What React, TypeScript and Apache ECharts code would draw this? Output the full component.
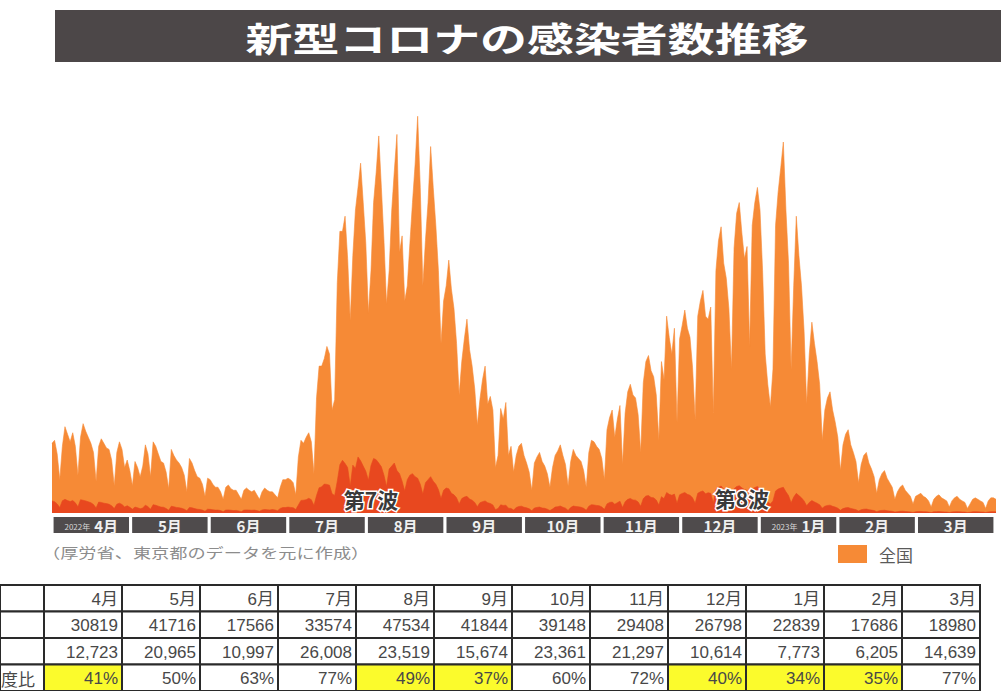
import { useEffect, useRef } from 'react';
import * as echarts from 'echarts';

// ---- Daily new cases, national (thousands), Apr 2022 - Mar 2023 ----
const natApr = [46, 48, 39, 22, 44, 57, 52, 47, 53, 44, 25, 50, 59, 54, 50, 46, 40, 21, 44, 49, 46, 43, 42, 35, 18, 40, 47, 42, 30, 35];
const natMay = [28, 18, 34, 30, 24, 31, 45, 39, 24, 47, 44, 39, 34, 33, 27, 16, 42, 38, 35, 33, 30, 25, 14, 36, 33, 28, 24, 23, 19, 11, 23];
const natJun = [22, 19, 17, 17, 14, 9, 17, 18.5, 16, 15, 15, 12, 9, 15, 16.5, 15, 14, 15, 12, 9, 14, 16.5, 15, 14, 14, 12, 10, 17, 22, 22];
const natJul = [23, 22, 20, 12, 37, 48, 46, 50, 53, 47, 26, 76, 97, 97, 102, 110, 105, 68, 75, 152, 186, 186, 196, 168, 127, 170, 200, 215, 231, 205, 178];
const natAug = [132, 160, 205, 225, 249, 215, 180, 138, 160, 200, 226, 250, 172, 183, 140, 150, 178, 205, 230, 262, 215, 150, 180, 205, 242, 215, 190, 160, 112, 140, 150];
const natSep = [167, 148, 135, 112, 78, 100, 115, 128, 108, 97, 82, 58, 75, 88, 97, 72, 77, 68, 30, 38, 69, 62, 73, 38, 44, 27, 38, 44, 46, 38];
const natOct = [33, 27, 15, 33, 37, 40, 34, 31, 26, 17, 30, 38, 41, 45, 38, 32, 18, 34, 42, 38, 36, 34, 28, 17, 40, 48, 47, 44, 42, 36, 22];
const natNov = [55, 63, 68, 50, 62, 71, 32, 66, 80, 85, 78, 76, 65, 40, 86, 100, 104, 94, 90, 78, 48, 100, 88, 130, 116, 105, 122, 60, 115, 124];
const natDec = [134, 122, 116, 96, 62, 130, 140, 147, 130, 128, 136, 66, 160, 180, 189, 165, 155, 135, 95, 175, 198, 205, 185, 168, 176, 110, 190, 205, 215, 200, 160];
const natJan = [105, 85, 70, 95, 190, 212, 228, 245, 200, 165, 95, 150, 196, 170, 150, 120, 72, 105, 126, 112, 100, 85, 48, 68, 76, 80, 68, 60, 50, 28, 45];
const natFeb = [52, 55, 45, 40, 34, 20, 32, 38, 40, 33, 29, 24, 13, 22, 26, 28, 23, 20, 17, 9, 14, 17, 18.5, 15, 13, 11, 6, 11];
const natMar = [12, 13, 11, 10, 8, 4, 9, 11, 12, 10, 9, 8, 4, 8, 10, 11, 9, 8, 7, 3, 6, 9, 10, 9, 8, 7, 3, 8, 10, 10, 9];

// ---- Daily new cases, Tokyo (thousands) ----
const tkApr = [8.0, 7.5, 6.0, 3.6, 8.1, 9.0, 8.2, 7.6, 8.2, 6.7, 4.1, 8.8, 8.4, 8.0, 7.4, 6.8, 5.6, 3.3, 7.2, 7.0, 6.5, 6.2, 5.8, 4.8, 2.9, 5.8, 6.5, 5.6, 4.0, 4.8];
const tkMay = [3.8, 2.5, 3.9, 3.5, 2.8, 3.3, 5.2, 4.2, 2.5, 5.5, 5.1, 4.5, 3.9, 3.8, 3.0, 1.8, 4.5, 4.1, 3.7, 3.5, 3.1, 2.5, 1.5, 3.7, 3.4, 2.9, 2.5, 2.3, 1.9, 1.1, 2.5];
const tkJun = [2.4, 2.1, 1.9, 1.9, 1.6, 0.9, 1.9, 2.0, 1.8, 1.6, 1.7, 1.4, 0.9, 1.9, 2.0, 1.9, 1.8, 1.9, 1.6, 1.1, 2.0, 2.3, 2.1, 2.0, 2.3, 2.0, 1.5, 3.0, 3.6, 3.6];
const tkJul = [3.9, 3.7, 3.5, 2.3, 5.3, 8.3, 8.5, 8.8, 9.7, 8.8, 5.0, 11.5, 16.7, 17.3, 19.1, 18.9, 18.4, 12.7, 11.6, 21.0, 31.9, 34.8, 32.7, 30.0, 17.8, 31.6, 29.4, 37.0, 34.5, 31.0, 27.6];
const tkAug = [21.6, 31.4, 36.0, 35.2, 33.0, 30.5, 25.0, 17.5, 29.0, 31.0, 33.0, 28.0, 26.0, 21.0, 14.5, 22.0, 25.0, 26.0, 24.0, 23.0, 19.0, 12.5, 20.0, 22.0, 24.0, 21.0, 19.0, 15.5, 9.5, 15.0, 16.5];
const tkSep = [16.0, 13.0, 12.0, 10.0, 6.0, 9.5, 10.5, 11.0, 9.2, 8.5, 7.0, 4.2, 6.8, 7.5, 8.0, 6.8, 6.3, 5.3, 2.2, 3.0, 5.4, 5.0, 5.2, 3.2, 3.0, 1.9, 3.6, 4.3, 4.5, 3.8];
const tkOct = [3.4, 2.8, 1.5, 3.3, 3.7, 3.9, 3.3, 3.1, 2.5, 1.6, 2.6, 3.9, 4.2, 4.6, 3.8, 3.2, 1.7, 3.6, 4.6, 4.3, 4.1, 3.8, 3.1, 1.8, 4.5, 5.5, 5.3, 5.0, 4.8, 4.0, 2.4];
const tkNov = [6.0, 7.0, 7.2, 5.8, 6.8, 7.8, 3.6, 7.5, 9.0, 9.6, 8.6, 8.5, 7.3, 4.5, 9.5, 11.2, 11.5, 10.3, 10.0, 8.6, 5.3, 10.8, 9.5, 13.5, 12.3, 11.7, 12.5, 6.4, 12.0, 12.9];
const tkDec = [13.5, 12.3, 11.8, 10.0, 6.5, 13.0, 14.0, 14.6, 12.7, 13.4, 13.0, 6.8, 15.5, 17.0, 17.8, 15.8, 14.8, 13.0, 9.0, 16.0, 17.5, 18.0, 16.6, 15.5, 15.0, 9.5, 16.0, 16.8, 17.5, 16.2, 12.5];
const tkJan = [9.5, 7.2, 6.0, 8.0, 14.5, 15.8, 16.5, 17.0, 14.0, 11.5, 6.8, 10.5, 13.0, 11.5, 10.0, 8.0, 4.8, 7.0, 8.2, 7.3, 6.5, 5.5, 3.2, 4.5, 5.0, 5.2, 4.4, 3.9, 3.2, 1.8, 2.9];
const tkFeb = [3.4, 3.6, 3.0, 2.6, 2.2, 1.3, 2.1, 2.5, 2.6, 2.2, 1.9, 1.6, 0.9, 1.5, 1.7, 1.8, 1.5, 1.3, 1.1, 0.6, 0.9, 1.1, 1.2, 1.0, 0.9, 0.7, 0.4, 0.8];
const tkMar = [1.0, 1.0, 0.9, 0.8, 0.6, 0.3, 0.8, 0.9, 1.0, 0.8, 0.7, 0.6, 0.3, 0.7, 0.8, 0.9, 0.8, 0.7, 0.6, 0.3, 0.5, 0.8, 0.9, 0.8, 0.7, 0.6, 0.3, 0.7, 0.9, 0.9, 0.8];

const national = [...natApr, ...natMay, ...natJun, ...natJul, ...natAug, ...natSep, ...natOct, ...natNov, ...natDec, ...natJan, ...natFeb, ...natMar];
const tokyo = [...tkApr, ...tkMay, ...tkJun, ...tkJul, ...tkAug, ...tkSep, ...tkOct, ...tkNov, ...tkDec, ...tkJan, ...tkFeb, ...tkMar];

// ---- Month strip under the chart ----
const monthBarLabels = ['4月', '5月', '6月', '7月', '8月', '9月', '10月', '11月', '12月', '1月', '2月', '3月'];
const monthBarYears = ['2022年', '', '', '', '', '', '', '', '', '2023年', '', ''];
const monthBarValues = [1, 1, 1, 1, 1, 1, 1, 1, 1, 1, 1, 1];

// ---- Wave annotations (day index, value in thousands) ----
const waveNames = ['第7波', '第8波'];
const waveDays = [123, 266];
const waveValues = [9.3, 9.9];

// ---- Table ----
const tableMonths = ['4月', '5月', '6月', '7月', '8月', '9月', '10月', '11月', '12月', '1月', '2月', '3月'];
const tableRowA = [30819, 41716, 17566, 33574, 47534, 41844, 39148, 29408, 26798, 22839, 17686, 18980];
const tableRowB = [12723, 20965, 10997, 26008, 23519, 15674, 23361, 21297, 10614, 7773, 6205, 14639];
const tableRatio = [41, 50, 63, 77, 49, 37, 60, 72, 40, 34, 35, 77];
const ratioHighlight = [true, false, false, false, true, true, false, false, true, true, true, false];
const rowHeaders = ['', '', '', '度比'];
const tableRows = ['month', 'a', 'b', 'ratio'];

const TITLE = '新型コロナの感染者数推移';
const NOTE = '（厚労省、東京都のデータを元に作成）';

const JP = '"Noto Sans CJK JP", "Noto Sans", sans-serif';
const NUM = '"Liberation Sans", Arial, "Noto Sans CJK JP", sans-serif';
const ORANGE = '#f68a36';
const RED = '#e8481f';
const YELLOW = '#fbfb2c';

const START = Date.UTC(2022, 3, 1);
const dayCategories = national.map((_, i) => {
  const d = new Date(START + i * 86400000);
  return `${d.getUTCFullYear()}/${d.getUTCMonth() + 1}/${d.getUTCDate()}`;
});

function cellText(c: number, r: number): string {
  if (r === 0) return tableMonths[c];
  if (r === 1) return String(tableRowA[c]);
  if (r === 2) return tableRowB[c].toLocaleString('en-US');
  return tableRatio[c] + '%';
}

export default function App() {
  const ref = useRef<HTMLDivElement>(null);
  useEffect(() => {
    if (!ref.current) return;
    const chart = echarts.init(ref.current, undefined, { renderer: 'svg' });

    const tableData: number[][] = [];
    for (let r = 0; r < tableRows.length; r++) {
      for (let c = 0; c < tableMonths.length; c++) tableData.push([c, r]);
    }
    const headData = rowHeaders.map((_, r) => [0, r]);

    chart.setOption({
      animation: false,
      backgroundColor: '#ffffff',
      grid: [
        { left: 52, right: 5, top: 89, height: 424 },
        { left: 52, right: 6, top: 517, height: 16 },
        { left: 44, width: 936, top: 585, height: 106 },
        { left: 0, width: 44, top: 585, height: 106 },
      ],
      xAxis: [
        { gridIndex: 0, type: 'category', data: dayCategories, boundaryGap: false, show: false },
        { gridIndex: 1, type: 'category', data: monthBarLabels, show: false },
        { gridIndex: 2, type: 'category', data: tableMonths, show: false },
        { gridIndex: 3, type: 'category', data: ['head'], show: false },
      ],
      yAxis: [
        { gridIndex: 0, type: 'value', min: 0, max: 280, show: false },
        { gridIndex: 1, type: 'value', min: 0, max: 1, show: false },
        { gridIndex: 2, type: 'category', data: tableRows, inverse: true, show: false },
        { gridIndex: 3, type: 'category', data: tableRows, inverse: true, show: false },
      ],
      legend: {
        data: ['全国'],
        left: 838,
        top: 545,
        icon: 'rect',
        itemWidth: 29,
        itemHeight: 18,
        padding: 0,
        selectedMode: false,
        textStyle: { fontSize: 17, color: '#5a5a5a', fontFamily: JP, padding: [0, 0, 0, 7] },
      },
      graphic: [
        { type: 'rect', shape: { x: 55, y: 10, width: 960, height: 52 }, style: { fill: '#4c4748' } },
        {
          type: 'text', x: 527, y: 37, scaleX: 1.38,
          style: { text: TITLE, fill: '#ffffff', fontSize: 34, fontWeight: 'bold', fontFamily: JP, align: 'center', verticalAlign: 'middle', textAlign: 'center', textVerticalAlign: 'middle' },
        },
        {
          type: 'text', x: 42, y: 552, scaleX: 1.3,
          style: { text: NOTE, fill: '#8c8c8c', fontSize: 14, fontFamily: JP, align: 'left', verticalAlign: 'middle', textAlign: 'left', textVerticalAlign: 'middle' },
        },
      ],
      series: [
        {
          name: '全国', type: 'line', xAxisIndex: 0, yAxisIndex: 0, data: national,
          symbol: 'none', smooth: false,
          lineStyle: { width: 0.6, color: ORANGE },
          itemStyle: { color: ORANGE },
          areaStyle: { color: ORANGE, opacity: 1 },
          z: 2,
        },
        {
          name: '東京都', type: 'line', xAxisIndex: 0, yAxisIndex: 0, data: tokyo,
          symbol: 'none', smooth: false,
          lineStyle: { width: 0.6, color: RED },
          itemStyle: { color: RED },
          areaStyle: { color: RED, opacity: 1 },
          z: 3,
          markPoint: {
            symbol: 'circle', symbolSize: 0,
            data: waveNames.map((n, i) => ({ name: n, coord: [waveDays[i], waveValues[i]] })),
            label: {
              show: true, position: 'inside', formatter: '{b}',
              color: '#3a3a3a', fontSize: 21, fontWeight: 'bold', fontFamily: JP,
              textBorderColor: '#ffffff', textBorderWidth: 3,
            },
          },
        },
        {
          name: 'months', type: 'bar', xAxisIndex: 1, yAxisIndex: 1, data: monthBarValues,
          barCategoryGap: '4%',
          itemStyle: { color: '#4f4b4c' },
          label: {
            show: true, position: 'inside',
            formatter: (p: any) => monthBarYears[p.dataIndex]
              ? `{y|${monthBarYears[p.dataIndex]}}{m|${monthBarLabels[p.dataIndex]}}`
              : `{m|${monthBarLabels[p.dataIndex]}}`,
            rich: {
              y: { fontSize: 8, color: '#d8d8d8', fontFamily: JP, padding: [3, 4, 0, 0] },
              m: { fontSize: 15, color: '#f0f0f0', fontWeight: 'bold', fontFamily: JP },
            },
          },
          silent: true,
        },
        {
          name: 'table', type: 'custom', xAxisIndex: 2, yAxisIndex: 2, data: tableData,
          silent: true, clip: false,
          renderItem: (params: any, api: any) => {
            const c = api.value(0);
            const r = api.value(1);
            const center = api.coord([c, r]);
            const size = api.size([1, 1]);
            const x = center[0] - size[0] / 2;
            const y = center[1] - size[1] / 2;
            const fill = r === 3 && ratioHighlight[c] ? YELLOW : '#ffffff';
            return {
              type: 'group',
              children: [
                { type: 'rect', shape: { x, y, width: size[0], height: size[1] }, style: { fill, stroke: '#2a2a2a', lineWidth: 2 } },
                {
                  type: 'text',
                  style: {
                    text: cellText(c, r), x: x + size[0] - 4, y: center[1] + 1,
                    align: 'right', verticalAlign: 'middle', fill: '#484848', fontSize: 17, fontFamily: NUM,
                  },
                },
              ],
            };
          },
        },
        {
          name: 'tableHead', type: 'custom', xAxisIndex: 3, yAxisIndex: 3, data: headData,
          silent: true, clip: false,
          renderItem: (params: any, api: any) => {
            const c = api.value(0);
            const r = api.value(1);
            const center = api.coord([c, r]);
            const size = api.size([1, 1]);
            const x = center[0] - size[0] / 2;
            const y = center[1] - size[1] / 2;
            return {
              type: 'group',
              children: [
                { type: 'rect', shape: { x, y, width: size[0], height: size[1] }, style: { fill: '#ffffff', stroke: '#2a2a2a', lineWidth: 2 } },
                {
                  type: 'text',
                  style: {
                    text: rowHeaders[r], x: x + 1, y: center[1] + 1,
                    align: 'left', verticalAlign: 'middle', fill: '#484848', fontSize: 17, fontFamily: JP,
                  },
                },
              ],
            };
          },
        },
      ],
    });
    return () => chart.dispose();
  }, []);
  return <div ref={ref} style={{ position: 'absolute', left: 0, top: 0, width: 1001, height: 691 }} />;
}
